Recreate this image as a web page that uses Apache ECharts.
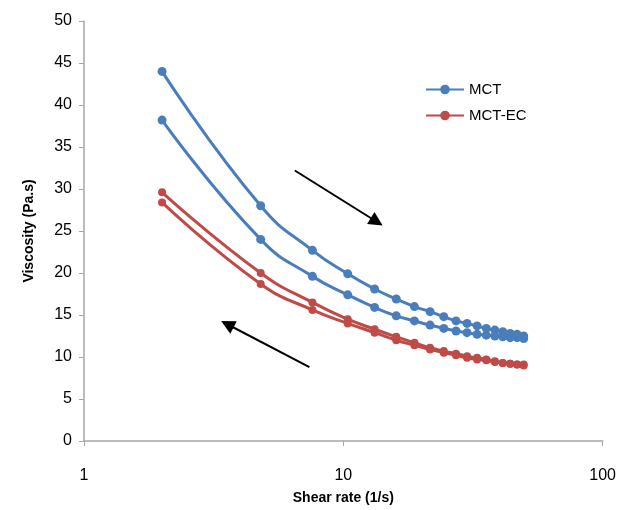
<!DOCTYPE html>
<html>
<head>
<meta charset="utf-8">
<script src="https://cdn.jsdelivr.net/npm/echarts@6/dist/echarts.min.js"></script>
<style>
  html, body { margin: 0; padding: 0; background: #fff; }
  #chart { width: 619px; height: 510px; }
</style>
</head>
<body>
<div id="chart"></div>
<script>
var shearRate = [2, 4.8, 7.6, 10.4, 13.2, 16, 18.8, 21.6, 24.4, 27.2, 30, 32.8, 35.6, 38.4, 41.2, 44, 46.8, 49.6];

// MCT, ramp up (upper) and ramp down (lower)
var mctUp   = [44.0, 28.0, 22.7, 19.9, 18.1, 16.9, 16.0, 15.4, 14.8, 14.3, 14.0, 13.7, 13.4, 13.2, 13.0, 12.8, 12.7, 12.5];
var mctDown = [38.2, 24.0, 19.6, 17.4, 15.9, 14.9, 14.3, 13.8, 13.4, 13.1, 12.9, 12.7, 12.6, 12.5, 12.4, 12.3, 12.3, 12.2];

// MCT-EC
var ecUp   = [29.6, 20.0, 16.5, 14.5, 13.3, 12.4, 11.7, 11.1, 10.7, 10.4, 10.1, 9.9, 9.7, 9.5, 9.3, 9.2, 9.1, 9.1];
var ecDown = [28.4, 18.7, 15.6, 14.0, 12.9, 12.0, 11.4, 10.9, 10.5, 10.2, 9.9, 9.7, 9.6, 9.4, 9.3, 9.2, 9.1, 9.0];

var yTicks = [0, 5, 10, 15, 20, 25, 30, 35, 40, 45, 50];

// arrow annotations in data coords
var arrowDown = [[6.5, 32.2], [13.45, 26.1]];
var arrowBack = [[7.4, 8.8], [3.57, 13.9]];

var blue = '#4A7EBB';
var red = '#BE4B48';
var fontFam = '"Liberation Sans", Arial, sans-serif';

function pairs(ys) {
    return shearRate.map(function (x, i) { return [x, ys[i]]; });
}

function mkSeries(name, ys, color, size, extra) {
    var s = {
        name: name,
        type: 'line',
        smooth: true,
        data: pairs(ys),
        symbol: 'circle',
        symbolSize: size,
        itemStyle: { color: color },
        lineStyle: { color: color, width: 3 },
        emphasis: { disabled: true },
        z: 3
    };
    if (extra) s.markLine = extra;
    return s;
}

var arrows = {
    silent: true,
    symbol: ['none', 'triangle'],
    symbolSize: [14, 14],
    lineStyle: { color: '#000', width: 2, type: 'solid' },
    itemStyle: { color: '#000' },
    label: { show: false },
    data: [
        [{ coord: arrowDown[0] }, { coord: arrowDown[1] }],
        [{ coord: arrowBack[0] }, { coord: arrowBack[1] }]
    ]
};

var chart = echarts.init(document.getElementById('chart'));

var option = {
    animation: false,
    textStyle: { fontFamily: fontFam },
    grid: { left: 84, right: 14, top: 21, bottom: 69 },
    legend: {
        data: ['MCT', 'MCT-EC'],
        orient: 'vertical',
        left: 420,
        top: 77,
        itemGap: 11,
        itemWidth: 38,
        itemHeight: 12,
        textStyle: { fontSize: 15, color: '#000', fontFamily: fontFam }
    },
    xAxis: {
        type: 'log',
        logBase: 10,
        min: 1,
        max: 100,
        name: 'Shear rate (1/s)',
        nameLocation: 'middle',
        nameGap: 50,
        nameTextStyle: { fontSize: 14, fontWeight: 'bold', color: '#000' },
        axisLine: { lineStyle: { color: '#a6a6a6', width: 1.5 } },
        axisTick: { show: true, length: 5, lineStyle: { color: '#a6a6a6' } },
        minorTick: { show: false },
        splitLine: { show: false },
        axisLabel: { fontSize: 16, color: '#000', margin: 27 }
    },
    yAxis: {
        type: 'value',
        min: yTicks[0],
        max: yTicks[yTicks.length - 1],
        interval: 5,
        name: 'Viscosity (Pa.s)',
        nameLocation: 'middle',
        nameGap: 48,
        nameTextStyle: { fontSize: 14, fontWeight: 'bold', color: '#000' },
        axisLine: { show: true, lineStyle: { color: '#a6a6a6', width: 1.5 } },
        axisTick: { show: true, length: 5, lineStyle: { color: '#a6a6a6' } },
        splitLine: { show: false },
        axisLabel: { fontSize: 16, color: '#000', margin: 12 }
    },
    series: [
        mkSeries('MCT', mctUp, blue, 9, arrows),
        mkSeries('MCT', mctDown, blue, 9),
        mkSeries('MCT-EC', ecUp, red, 8),
        mkSeries('MCT-EC', ecDown, red, 8)
    ]
};
chart.setOption(option);
</script>
</body>
</html>
